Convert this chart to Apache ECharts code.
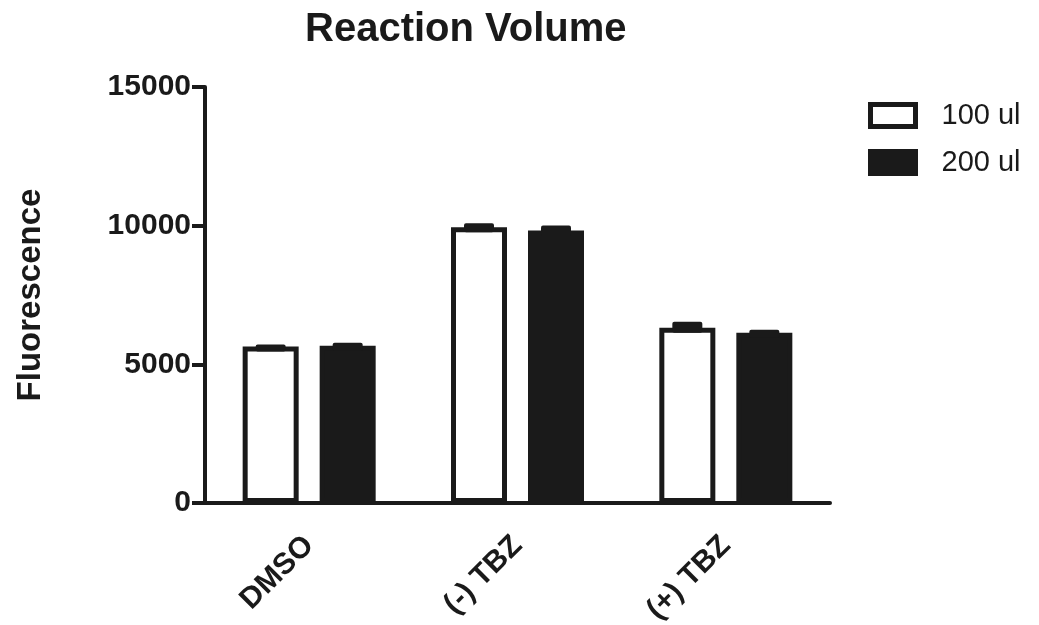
<!DOCTYPE html>
<html>
<head>
<meta charset="utf-8">
<script src="https://cdn.jsdelivr.net/npm/echarts@6/dist/echarts.min.js"></script>
<style>
html,body{margin:0;padding:0;background:#fff;}
#main{width:1039px;height:625px;}
</style>
</head>
<body>
<div id="main"></div>
<script>
var categories = ['DMSO', '(-) TBZ', '(+) TBZ'];
var seriesNames = ['100 ul', '200 ul'];
var values100 = [5640, 9940, 6320];
var values200 = [5670, 9830, 6140];
var errors100 = [75, 145, 215];
var errors200 = [110, 180, 110];
var yTicks = [0, 5000, 10000, 15000];

var INK = '#1a1a1a';
var FONT = '"Liberation Sans", Arial, sans-serif';
var BAR_W = 56, GAP = 21, BORDER = 5;
var OFFSET = (BAR_W + GAP) / 2;

function errData(vals, errs) {
  return vals.map(function (v, i) { return [i, v, errs[i]]; });
}

function errRenderer(sign) {
  return function (params, api) {
    var idx = api.value(0), v = api.value(1), e = api.value(2);
    var base = api.coord([idx, v]);
    var top = api.coord([idx, v + e]);
    var x = base[0] + sign * OFFSET;
    var half = 15;
    return {
      type: 'rect',
      shape: { x: x - half, y: top[1], width: half * 2, height: base[1] - top[1] + BORDER, r: 2 },
      style: { fill: INK }
    };
  };
}

var chart = echarts.init(document.getElementById('main'));
chart.setOption({
  animation: false,
  backgroundColor: '#fff',
  textStyle: { fontFamily: FONT, color: INK },
  title: {
    text: 'Reaction Volume',
    left: 300, top: 5,
    textStyle: { fontFamily: FONT, fontWeight: 'bold', fontSize: 40, color: INK }
  },
  legend: {
    orient: 'vertical',
    left: 868, top: 101,
    padding: 0,
    itemWidth: 45, itemHeight: 22, itemGap: 18,
    icon: 'rect',
    data: seriesNames,
    itemStyle: { borderWidth: 5, borderColor: INK },
    textStyle: { fontFamily: FONT, fontSize: 29, color: INK, padding: [0, 0, 0, 21] }
  },
  grid: { left: 205, right: 209, top: 87, bottom: 122, containLabel: false, outerBoundsMode: 'none' },
  xAxis: {
    type: 'category',
    data: categories,
    axisLine: { lineStyle: { color: INK, width: 4 } },
    axisTick: { alignWithLabel: true, length: 12, lineStyle: { color: INK, width: 4 } },
    axisLabel: { rotate: 45, margin: 38, fontFamily: FONT, fontWeight: 'bold', fontSize: 30, color: INK }
  },
  yAxis: {
    type: 'value',
    min: yTicks[0], max: yTicks[yTicks.length - 1], interval: yTicks[1] - yTicks[0],
    name: 'Fluorescence',
    nameLocation: 'middle', nameRotate: 90, nameGap: 158,
    nameTextStyle: { fontFamily: FONT, fontWeight: 'bold', fontSize: 33, color: INK },
    axisLine: { show: true, lineStyle: { color: INK, width: 4 } },
    axisTick: { show: true, length: 13, lineStyle: { color: INK, width: 4 } },
    axisLabel: { margin: 14, fontFamily: FONT, fontWeight: 'bold', fontSize: 30, color: INK,
      formatter: function (v) { return String(v); } },
    splitLine: { show: false }
  },
  series: [
    {
      name: seriesNames[0], type: 'bar', data: values100,
      barWidth: BAR_W, barGap: (GAP / BAR_W * 100) + '%',
      itemStyle: { color: '#ffffff', borderColor: INK, borderWidth: BORDER },
      z: 2
    },
    {
      name: seriesNames[1], type: 'bar', data: values200,
      barWidth: BAR_W,
      itemStyle: { color: INK, borderColor: INK, borderWidth: BORDER },
      z: 2
    },
    {
      type: 'custom', data: errData(values100, errors100),
      renderItem: errRenderer(-1), z: 3, silent: true,
      encode: { x: 0, y: 1 }
    },
    {
      type: 'custom', data: errData(values200, errors200),
      renderItem: errRenderer(1), z: 3, silent: true,
      encode: { x: 0, y: 1 }
    }
  ]
});
</script>
</body>
</html>
